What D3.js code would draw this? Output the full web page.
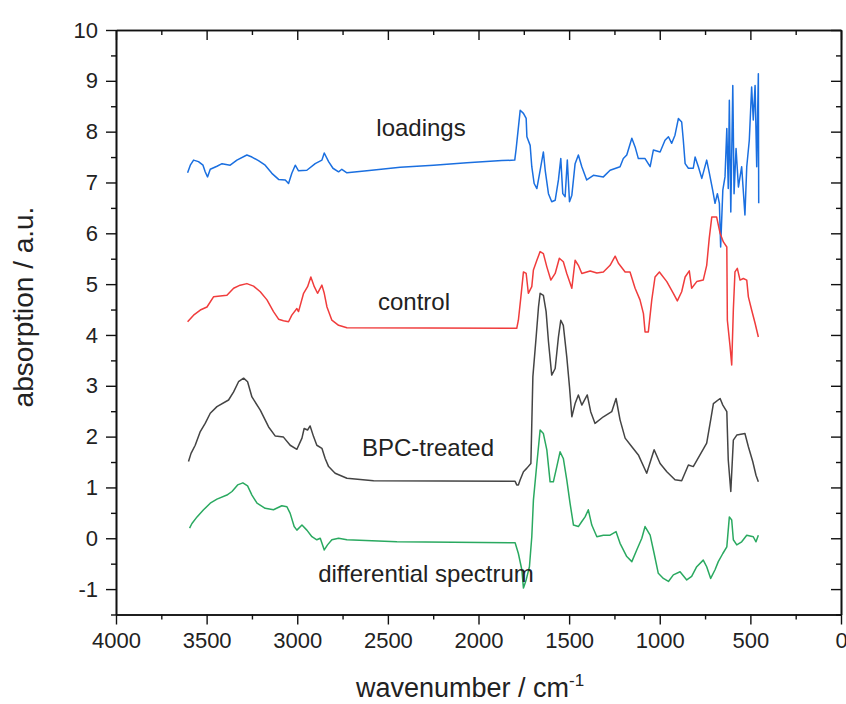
<!DOCTYPE html>
<html lang="en">
<head>
<meta charset="UTF-8">
<title>IR spectra</title>
<script src="https://d3js.org/d3.v7.min.js"></script>
<style>
  body { margin: 0; background: #fff; }
  text { font-family: "Liberation Sans", Arial, sans-serif; fill: #222; }
</style>
</head>
<body>
<script>
// spectra as [wavenumber, absorption] pairs
const loadings = [[3605,7.19],[3590,7.34],[3572,7.44],[3545,7.41],[3520,7.34],[3508,7.21],[3495,7.11],[3480,7.26],[3443,7.32],[3415,7.37],[3370,7.34],[3333,7.44],[3278,7.54],[3250,7.50],[3214,7.43],[3177,7.34],[3140,7.18],[3103,7.06],[3066,7.05],[3048,6.98],[3030,7.18],[3011,7.34],[2993,7.23],[2947,7.24],[2901,7.37],[2864,7.44],[2851,7.58],[2827,7.41],[2803,7.28],[2772,7.21],[2754,7.26],[2726,7.19],[2616,7.23],[2432,7.30],[2248,7.34],[2064,7.39],[1871,7.43],[1800,7.44],[1792,7.67],[1770,8.42],[1752,8.36],[1737,8.26],[1733,7.90],[1715,7.73],[1706,7.31],[1693,6.98],[1678,6.88],[1660,7.24],[1642,7.60],[1632,7.24],[1614,6.78],[1596,6.62],[1577,6.65],[1559,7.05],[1546,7.47],[1535,6.78],[1522,6.72],[1510,7.44],[1498,6.62],[1485,6.75],[1467,7.37],[1449,7.54],[1430,7.31],[1403,7.05],[1366,7.14],[1311,7.11],[1274,7.24],[1219,7.31],[1201,7.47],[1182,7.54],[1154,7.87],[1136,7.70],[1118,7.47],[1081,7.47],[1053,7.31],[1035,7.64],[998,7.60],[971,7.83],[952,7.90],[934,7.77],[916,7.93],[897,8.26],[879,8.19],[870,7.83],[860,7.37],[842,7.28],[815,7.28],[805,7.50],[787,7.31],[768,7.08],[741,7.44],[726,7.18],[708,6.85],[695,6.59],[682,6.78],[671,6.59],[664,5.73],[652,6.85],[640,7.11],[630,8.06],[622,6.88],[616,8.62],[608,6.42],[597,8.91],[590,6.78],[579,7.67],[566,6.91],[548,7.31],[530,6.36],[520,7.31],[506,7.83],[493,8.88],[484,8.23],[474,8.91],[465,7.31],[456,9.14],[454,6.59]];

const control = [[3605,4.26],[3572,4.39],[3535,4.49],[3498,4.55],[3462,4.75],[3388,4.78],[3351,4.92],[3315,4.98],[3278,5.01],[3241,4.96],[3204,4.85],[3167,4.69],[3131,4.46],[3103,4.31],[3076,4.28],[3048,4.26],[3030,4.39],[3002,4.52],[2993,4.46],[2965,4.82],[2943,4.95],[2925,5.14],[2906,4.95],[2888,4.82],[2864,4.98],[2851,4.82],[2836,4.55],[2809,4.29],[2772,4.19],[2726,4.14],[1789,4.13],[1780,4.29],[1767,4.72],[1752,5.24],[1737,5.21],[1725,4.82],[1706,4.95],[1697,5.28],[1678,5.47],[1660,5.64],[1642,5.60],[1623,5.34],[1601,5.08],[1577,5.21],[1554,5.51],[1532,5.44],[1513,5.21],[1485,4.92],[1467,5.47],[1449,5.37],[1430,5.21],[1384,5.26],[1347,5.22],[1311,5.24],[1274,5.37],[1246,5.55],[1228,5.41],[1191,5.24],[1164,5.24],[1136,4.92],[1109,4.69],[1090,4.42],[1081,4.06],[1063,4.06],[1044,4.69],[1026,5.14],[1002,5.24],[961,5.05],[925,4.82],[903,4.67],[879,4.85],[860,5.14],[837,5.26],[824,4.92],[796,5.05],[760,5.08],[741,5.37],[727,5.90],[713,6.32],[686,6.32],[667,6.00],[649,5.83],[630,5.73],[627,4.29],[612,3.77],[603,3.41],[594,4.49],[585,5.24],[572,5.31],[557,5.08],[539,5.11],[520,5.08],[511,4.75],[493,4.49],[474,4.23],[456,3.96]];

const bpcTreated = [[3600,1.51],[3586,1.67],[3563,1.83],[3535,2.10],[3508,2.26],[3480,2.46],[3443,2.59],[3379,2.72],[3351,2.88],[3324,3.08],[3296,3.15],[3274,3.08],[3250,2.78],[3204,2.52],[3158,2.19],[3121,2.01],[3076,1.99],[3039,1.83],[3002,1.75],[2974,1.97],[2962,2.16],[2943,2.13],[2929,2.21],[2910,2.00],[2892,1.83],[2864,1.77],[2846,1.57],[2827,1.41],[2791,1.28],[2726,1.18],[2579,1.13],[1798,1.12],[1789,1.05],[1780,1.05],[1770,1.15],[1752,1.31],[1733,1.38],[1711,1.47],[1700,3.18],[1682,3.96],[1669,4.55],[1660,4.82],[1642,4.78],[1627,4.46],[1614,3.87],[1596,3.21],[1577,3.34],[1559,3.96],[1546,4.29],[1532,4.19],[1513,3.57],[1498,2.98],[1485,2.39],[1467,2.65],[1449,2.82],[1430,2.62],[1400,2.82],[1381,2.49],[1357,2.26],[1311,2.39],[1265,2.49],[1241,2.75],[1219,2.33],[1191,1.97],[1154,1.80],[1118,1.64],[1072,1.28],[1031,1.74],[998,1.47],[961,1.31],[916,1.15],[879,1.13],[842,1.44],[815,1.41],[778,1.64],[741,1.87],[719,2.33],[704,2.65],[667,2.75],[652,2.62],[630,2.49],[622,1.54],[608,0.92],[594,1.93],[575,2.03],[530,2.06],[511,1.80],[487,1.51],[469,1.24],[456,1.11]];

const differential = [[3594,0.20],[3581,0.29],[3553,0.42],[3517,0.56],[3480,0.69],[3443,0.77],[3388,0.85],[3360,0.92],[3329,1.05],[3300,1.09],[3274,1.03],[3250,0.85],[3222,0.69],[3177,0.59],[3131,0.56],[3085,0.64],[3057,0.62],[3039,0.49],[3017,0.23],[3002,0.16],[2974,0.26],[2947,0.16],[2919,0.03],[2892,-0.03],[2873,0.00],[2851,-0.23],[2833,-0.13],[2809,-0.03],[2772,0.00],[2726,-0.03],[2450,-0.07],[1798,-0.09],[1780,-0.30],[1761,-0.62],[1752,-0.98],[1737,-0.82],[1719,-0.56],[1706,0.03],[1697,0.75],[1678,1.47],[1660,2.13],[1642,2.06],[1623,1.74],[1605,1.11],[1587,1.11],[1568,1.41],[1550,1.70],[1532,1.57],[1513,1.15],[1495,0.69],[1476,0.26],[1449,0.23],[1430,0.33],[1412,0.42],[1394,0.56],[1375,0.26],[1347,0.03],[1311,0.06],[1274,0.06],[1241,0.13],[1219,-0.10],[1182,-0.36],[1154,-0.46],[1127,-0.23],[1099,0.00],[1081,0.23],[1053,0.06],[1031,-0.30],[1008,-0.69],[980,-0.79],[952,-0.85],[925,-0.72],[888,-0.66],[851,-0.82],[824,-0.75],[796,-0.56],[760,-0.43],[741,-0.56],[719,-0.79],[695,-0.62],[677,-0.46],[652,-0.30],[630,-0.17],[616,0.42],[603,0.36],[594,-0.03],[575,-0.13],[548,-0.07],[520,0.06],[484,0.03],[469,-0.07],[456,0.06]];

const xTicks = [4000, 3500, 3000, 2500, 2000, 1500, 1000, 500, 0];
const yTicks = [-1, 0, 1, 2, 3, 4, 5, 6, 7, 8, 9, 10];
const seriesNames = ["loadings", "control", "BPC-treated", "differential spectrum"];

// Set dimensions
const width = 846, height = 704;
const mLeft = 116, mRight = 841, mTop = 30, mBottom = 614.5;

const svg = d3.select("body").append("svg")
    .attr("width", width)
    .attr("height", height);

const x = d3.scaleLinear().domain([4000, 0]).range([mLeft, mRight]);
const y = d3.scaleLinear().domain([-1.5, 10]).range([mBottom, mTop]);

const xMinor = d3.range(0, 4001, 250).filter(v => v % 500 !== 0);
const yMinor = d3.range(-1.5, 10, 1);
const plain = d => String(d); // keep ascii hyphen for negatives

function styleAxis(g) {
    g.select(".domain").attr("stroke", "#111").attr("stroke-width", 1.6);
    g.selectAll(".tick line").attr("stroke", "#111").attr("stroke-width", 1.4);
    g.selectAll(".tick text").attr("font-size", 22)
        .attr("font-family", "'Liberation Sans', Arial, sans-serif").attr("fill", "#2a2a2a");
}

// minor ticks first, majors on top
svg.append("g").attr("transform", `translate(0,${mBottom})`)
    .call(d3.axisBottom(x).tickValues(xMinor).tickSize(5).tickSizeOuter(0).tickFormat(""))
    .call(styleAxis);
svg.append("g").attr("transform", `translate(0,${mTop})`)
    .call(d3.axisBottom(x).tickValues(xMinor).tickSize(5).tickSizeOuter(0).tickFormat(""))
    .call(styleAxis);
svg.append("g").attr("transform", `translate(${mLeft},0)`)
    .call(d3.axisLeft(y).tickValues(yMinor).tickSize(5).tickSizeOuter(0).tickFormat(""))
    .call(styleAxis);
svg.append("g").attr("transform", `translate(${mRight},0)`)
    .call(d3.axisLeft(y).tickValues(yMinor).tickSize(5).tickSizeOuter(0).tickFormat(""))
    .call(styleAxis);

// bottom axis (outward ticks, labelled)
svg.append("g").attr("transform", `translate(0,${mBottom})`)
    .call(d3.axisBottom(x).tickValues(xTicks).tickSize(10).tickSizeOuter(0).tickPadding(8).tickFormat(plain))
    .call(styleAxis);
// top axis (inward ticks)
svg.append("g").attr("transform", `translate(0,${mTop})`)
    .call(d3.axisBottom(x).tickValues(xTicks).tickSize(10).tickSizeOuter(0).tickFormat(""))
    .call(styleAxis);
// left axis
svg.append("g").attr("transform", `translate(${mLeft},0)`)
    .call(d3.axisLeft(y).tickValues(yTicks).tickSize(10).tickSizeOuter(0).tickPadding(8).tickFormat(plain))
    .call(styleAxis);
// right axis (inward ticks)
svg.append("g").attr("transform", `translate(${mRight},0)`)
    .call(d3.axisLeft(y).tickValues(yTicks).tickSize(10).tickSizeOuter(0).tickFormat(""))
    .call(styleAxis);

// spectra
const line = d3.line().x(d => x(d[0])).y(d => y(d[1]));
const series = [
    { data: loadings, color: "#1a6fe0" },
    { data: control, color: "#f03c3c" },
    { data: bpcTreated, color: "#444444" },
    { data: differential, color: "#2aa960" }
];
series.forEach(s => {
    svg.append("path")
        .datum(s.data)
        .attr("fill", "none")
        .attr("stroke", s.color)
        .attr("stroke-width", 1.5)
        .attr("stroke-linejoin", "round")
        .attr("d", line);
});

// series labels
const labelPos = [[421, 136], [414, 310], [428, 456], [426, 582]];
seriesNames.forEach((name, i) => {
    svg.append("text")
        .attr("x", labelPos[i][0]).attr("y", labelPos[i][1])
        .attr("text-anchor", "middle")
        .attr("font-size", 24)
        .text(name);
});

// axis titles
const xt = svg.append("text")
    .attr("x", 470).attr("y", 697)
    .attr("text-anchor", "middle")
    .attr("font-size", 27);
xt.append("tspan").text("wavenumber / cm");
xt.append("tspan").attr("dy", -11).attr("font-size", 17).text("-1");

svg.append("text")
    .attr("transform", "translate(33,307) rotate(-90)")
    .attr("text-anchor", "middle")
    .attr("font-size", 28)
    .text("absorption / a.u.");
</script>
</body>
</html>
